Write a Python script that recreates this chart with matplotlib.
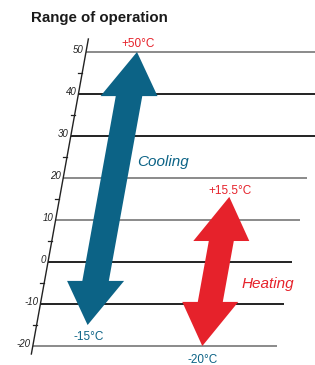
import matplotlib
matplotlib.use("Agg")
import matplotlib.pyplot as plt
from matplotlib.patches import Polygon
from matplotlib.transforms import Affine2D
import numpy as np

plt.rcParams['font.family'] = ['Liberation Sans', 'DejaVu Sans']

title = "Range of operation"
major_ticks = [50, 40, 30, 20, 10, 0, -10, -20]
minor_ticks = [45, 35, 25, 15, 5, -5, -15]
grid_dark = [40, 30, 0, -10]
series = ["Cooling", "Heating"]
lows = [-15, -20]
highs = [50, 15.5]
low_labels = ["-15°C", "-20°C"]
high_labels = ["+50°C", "+15.5°C"]

BLUE = "#0c6386"
RED = "#e6222b"
colors = [BLUE, RED]

W, H = 315, 365
fig = plt.figure(figsize=(W / 100, H / 100), dpi=100)
ax = fig.add_axes([0, 0, 1, 1])
ax.set_xlim(0, W)
ax.set_ylim(-24.52, 62.38)
ax.axis('off')

# shear: x_display = u + 0.76 * T
skew = Affine2D(np.array([[1, 0.76, 0], [0, 1, 0], [0, 0, 1]])) + ax.transData

u_axis = 48
u_end = 292

# gridlines
for t in major_ticks:
    c = "#222222" if t in grid_dark else "#8a8a8a"
    ax.plot([u_axis, u_end], [t, t], color=c, lw=1.4, transform=skew,
            solid_capstyle='butt', zorder=1)
    ax.text(u_axis - 2.5, t + 0.4, str(t), ha='right', va='center',
            fontsize=7, style='italic', color="#222222", transform=skew)

# axis line
ax.plot([u_axis, u_axis], [-21.9, 53.1], color="#222222", lw=1.0,
        transform=skew, zorder=2)
for t in minor_ticks:
    ax.plot([u_axis - 4, u_axis], [t, t], color="#222222", lw=0.9,
            transform=skew, zorder=2)


def double_arrow(u, lo, hi, sw, hw, hl):
    return [(u, hi), (u + hw / 2, hi - hl), (u + sw / 2, hi - hl),
            (u + sw / 2, lo + hl), (u + hw / 2, lo + hl), (u, lo),
            (u - hw / 2, lo + hl), (u - sw / 2, lo + hl),
            (u - sw / 2, hi - hl), (u - hw / 2, hi - hl)]


# arrows
u_pos = [99, 217.5]
shaft = [26.5, 25]
head_w = [57, 56]
head_l = 10.5
for u, lo, hi, c, sw, hw in zip(u_pos, lows, highs, colors, shaft, head_w):
    ax.add_patch(Polygon(double_arrow(u, lo, hi, sw, hw, head_l), closed=True,
                         facecolor=c, edgecolor='none', transform=skew,
                         zorder=3))

# end labels
for u, lo, hi, lo_lab, hi_lab, hi_off, lo_off in zip(
        u_pos, lows, highs, low_labels, high_labels,
        [2.0, 1.5], [2.8, 3.4]):
    ax.text(u, hi + hi_off, hi_lab, ha='center', va='center', fontsize=8.5,
            color=RED, transform=skew)
    ax.text(u + 3, lo - lo_off, lo_lab, ha='center', va='center',
            fontsize=8.5, color=BLUE, transform=skew)

# series labels
ax.text(163.5, 23.8, series[0], ha='center', va='center', fontsize=11,
        style='italic', color=BLUE)
ax.text(267.5, -5.2, series[1], ha='center', va='center', fontsize=11,
        style='italic', color=RED)

fig.text(31 / W, 1 - 18 / H, title, ha='left', va='center', fontsize=10.8,
         fontweight='bold', color="#1a1a1a")

fig.savefig("out.png", dpi=100)
